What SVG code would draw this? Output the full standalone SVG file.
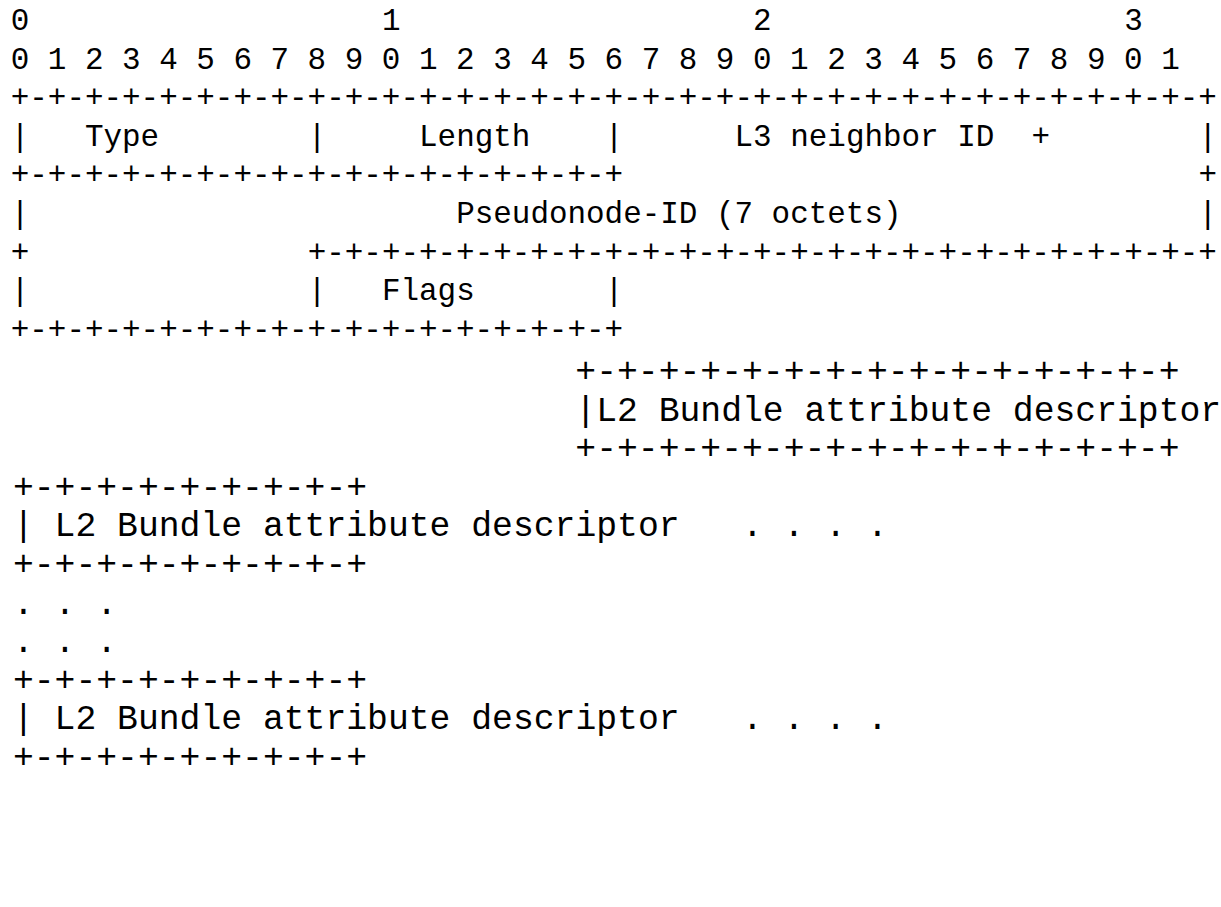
<svg xmlns="http://www.w3.org/2000/svg" width="1221" height="907" viewBox="0 0 1221 907">
<style>
text{fill:#000;white-space:pre}
.a{font-family:"Liberation Mono","DejaVu Sans Mono",monospace;font-size:30.93px}
.b{font-family:"Liberation Mono","DejaVu Sans Mono",monospace;font-size:34.72px}
</style>
<rect width="1221" height="907" fill="#fff"/>
<g id="bit-ruler" class="a">
<text x="10.72" y="30">0</text>
<text x="381.92" y="30">1</text>
<text x="753.12" y="30">2</text>
<text x="1124.32" y="30">3</text>
<text x="10.72" y="68.6">0 1 2 3 4 5 6 7 8 9 0 1 2 3 4 5 6 7 8 9 0 1 2 3 4 5 6 7 8 9 0 1</text>
</g>
<g id="tlv-header" class="a">
<text x="10.72" y="107.2">+-+-+-+-+-+-+-+-+-+-+-+-+-+-+-+-+-+-+-+-+-+-+-+-+-+-+-+-+-+-+-+-+</text>
<text x="10.72" y="145.8">|</text>
<text x="84.96" y="145.8">Type</text>
<text x="307.68" y="145.8">|</text>
<text x="419.04" y="145.8">Length</text>
<text x="604.64" y="145.8">|</text>
<text x="734.56" y="145.8">L3 neighbor ID</text>
<text x="1031.52" y="145.8">+</text>
<text x="1198.56" y="145.8">|</text>
<text x="10.72" y="184.4">+-+-+-+-+-+-+-+-+-+-+-+-+-+-+-+-+</text>
<text x="1198.56" y="184.4">+</text>
<text x="10.72" y="223">|</text>
<text x="456.16" y="223">Pseudonode-ID (7 octets)</text>
<text x="1198.56" y="223">|</text>
<text x="10.72" y="261.6">+</text>
<text x="307.68" y="261.6">+-+-+-+-+-+-+-+-+-+-+-+-+-+-+-+-+-+-+-+-+-+-+-+-+</text>
<text x="10.72" y="300.2">|</text>
<text x="307.68" y="300.2">|</text>
<text x="381.92" y="300.2">Flags</text>
<text x="604.64" y="300.2">|</text>
<text x="10.72" y="338.8">+-+-+-+-+-+-+-+-+-+-+-+-+-+-+-+-+</text>
</g>
<g id="l2-bundle-first" class="b">
<text x="575.31" y="382">+-+-+-+-+-+-+-+-+-+-+-+-+-+-+</text>
<text x="575.31" y="420.6">|L2 Bundle attribute descriptor</text>
<text x="575.31" y="459.2">+-+-+-+-+-+-+-+-+-+-+-+-+-+-+</text>
</g>
<g id="l2-bundle-second" class="b">
<text x="12.9" y="497.8">+-+-+-+-+-+-+-+-+</text>
<text x="12.9" y="536.4">| L2 Bundle attribute descriptor</text>
<text x="741.95" y="536.4">. . . .</text>
<text x="12.9" y="575">+-+-+-+-+-+-+-+-+</text>
</g>
<g id="ellipsis" class="b">
<text x="12.9" y="613.6">. . .</text>
<text x="12.9" y="652.2">. . .</text>
</g>
<g id="l2-bundle-last" class="b">
<text x="12.9" y="690.8">+-+-+-+-+-+-+-+-+</text>
<text x="12.9" y="729.4">| L2 Bundle attribute descriptor</text>
<text x="741.95" y="729.4">. . . .</text>
<text x="12.9" y="768">+-+-+-+-+-+-+-+-+</text>
</g>
</svg>
